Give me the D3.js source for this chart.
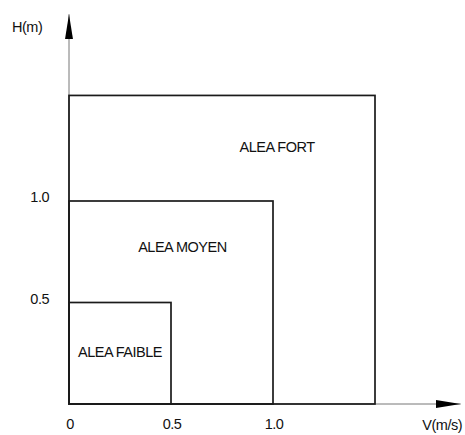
<!DOCTYPE html>
<html>
<head>
<meta charset="utf-8">
<script src="https://cdn.jsdelivr.net/npm/d3@7"></script>
<style>
  body { margin: 0; background: #fff; }
  text { font-family: "Liberation Sans", Arial, sans-serif; font-size: 14.5px; letter-spacing: -0.5px; fill: #111; }
</style>
</head>
<body>
<div id="chart"></div>
<script>
// zones of the hazard grid (upper bounds in V and H)
const zones = ['ALEA FAIBLE', 'ALEA MOYEN', 'ALEA FORT']
const zoneV = [0.5, 1.0, 1.5]
const zoneH = [0.5, 1.0, 1.52]
const tickValues = [0, 0.5, 1.0]
const xTickLabels = ['0', '0.5', '1.0']
const yTickLabels = ['0.5', '1.0']
const axisTitles = ['V(m/s)', 'H(m)']

const width = 465
const height = 435

const x = d3.scaleLinear().domain([0, 1]).range([69, 273])
const y = d3.scaleLinear().domain([0, 1]).range([404, 201])
const axisEnd = 1.92

// label anchors in data units (centre x, baseline y)
const labelAt = [[0.25, 0.23], [0.556, 0.75], [1.02, 1.24]]

const svg = d3.select('#chart')
  .append('svg')
  .attr('width', width)
  .attr('height', height)

// axes with arrows
const defs = svg.append('defs')
defs.append('marker')
  .attr('id', 'arr')
  .attr('viewBox', '0 0 25 8')
  .attr('refX', 25)
  .attr('refY', 4)
  .attr('markerWidth', 25)
  .attr('markerHeight', 8)
  .attr('markerUnits', 'userSpaceOnUse')
  .attr('orient', 'auto')
  .append('path')
  .attr('d', 'M0,0 L25,4 L0,8 Z')
  .attr('fill', '#000')

svg.append('line')
  .attr('x1', x(0)).attr('y1', y(0))
  .attr('x2', x(axisEnd)).attr('y2', y(0))
  .attr('stroke', '#777').attr('stroke-width', 1)
  .attr('marker-end', 'url(#arr)')

svg.append('line')
  .attr('x1', x(0)).attr('y1', y(0))
  .attr('x2', x(0)).attr('y2', y(axisEnd))
  .attr('stroke', '#777').attr('stroke-width', 1)
  .attr('marker-end', 'url(#arr)')

// zone boxes
svg.selectAll('rect.zone')
  .data(zones)
  .enter()
  .append('rect')
  .attr('class', 'zone')
  .attr('x', x(0))
  .attr('y', (d, i) => y(zoneH[i]))
  .attr('width', (d, i) => x(zoneV[i]) - x(0))
  .attr('height', (d, i) => y(0) - y(zoneH[i]))
  .attr('fill', 'none')
  .attr('stroke', '#1a1a1a')
  .attr('stroke-width', 1.7)

svg.selectAll('text.zone')
  .data(zones)
  .enter()
  .append('text')
  .attr('class', 'zone')
  .attr('x', (d, i) => x(labelAt[i][0]))
  .attr('y', (d, i) => y(labelAt[i][1]))
  .attr('text-anchor', 'middle')
  .text(d => d)

// tick labels
svg.selectAll('text.xt')
  .data(tickValues)
  .enter()
  .append('text')
  .attr('class', 'xt')
  .attr('x', d => x(d) + 1)
  .attr('y', 429)
  .attr('text-anchor', 'middle')
  .text((d, i) => xTickLabels[i])

svg.selectAll('text.yt')
  .data(tickValues.slice(1))
  .enter()
  .append('text')
  .attr('class', 'yt')
  .attr('x', 49)
  .attr('y', d => y(d) + 1)
  .attr('text-anchor', 'end')
  .text((d, i) => yTickLabels[i])

svg.append('text')
  .attr('x', 462)
  .attr('y', 430)
  .attr('text-anchor', 'end')
  .text(axisTitles[0])

svg.append('text')
  .attr('x', 12)
  .attr('y', 32)
  .text(axisTitles[1])
</script>
</body>
</html>
